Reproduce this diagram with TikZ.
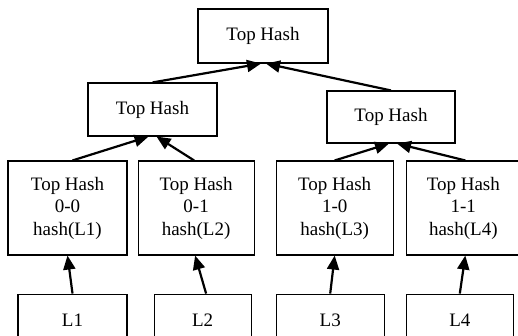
\documentclass[tikz,border=0pt]{standalone}
\usepackage{fontspec}
\setmainfont{Liberation Serif}
\usetikzlibrary{positioning,arrows.meta}

\tikzset{
  hashbox/.style={draw, line width=1.1pt, minimum height=53pt, inner sep=0pt,
    align=center, font=\fontsize{19}{22.5}\selectfont},
  link/.style={line width=2.2pt, -{Triangle[length=14pt,width=12pt]}},
}

\begin{document}
\begin{tikzpicture}[x=1pt,y=1pt]
      \clip (0,0) rectangle (518,-335);

        \node[hashbox, minimum width=130pt, minimum height=54pt] (top) at (263,-36) {Top Hash};
        \node[hashbox, minimum width=129pt] (m0) at (152.5,-109.5) {Top Hash};
        \node[hashbox, minimum width=128pt, minimum height=52pt] (m1) at (391,-117) {Top Hash};

        \node[hashbox, minimum width=119pt, minimum height=94pt] (h00) at (67.5,-208) {Top Hash\\0-0\\hash(L1)};
        \node[hashbox, minimum width=116pt, minimum height=94pt, right=10pt of h00] (h01) {Top Hash\\0-1\\hash(L2)};
        \node[hashbox, minimum width=117pt, minimum height=94pt, right=21pt of h01] (h10) {Top Hash\\1-0\\hash(L3)};
        \node[hashbox, minimum width=114pt, minimum height=94pt, right=12pt of h10] (h11) {Top Hash\\1-1\\hash(L4)};

        \node[hashbox, minimum width=109pt, below=38pt of h00, xshift=5pt] (l1) {L1};
        \node[hashbox, minimum width=97pt, below=38pt of h01, xshift=6.5pt] (l2) {L2};
        \node[hashbox, minimum width=108pt, below=38pt of h10, xshift=-4.5pt] (l3) {L3};
        \node[hashbox, minimum width=107pt, below=38pt of h11, xshift=-3.5pt] (l4) {L4};

        \draw[link] (m0.north) -- ([xshift=-2pt]top.south);
        \draw[link] (m1.north) -- ([xshift=3pt]top.south);

        \draw[link] ([xshift=5pt]h00.north) -- ([xshift=-4pt]m0.south);
        \draw[link] ([xshift=-2pt]h01.north) -- ([xshift=4pt]m0.south);
        \draw[link] (h10.north) -- ([xshift=-2pt]m1.south);
        \draw[link] ([xshift=2pt]h11.north) -- ([xshift=6pt]m1.south);

        \draw[link] (l1.north) -- (h00.south);
        \draw[link] ([xshift=3.5pt]l2.north) -- ([xshift=-1pt]h01.south);
        \draw[link] (l3.north) -- (h10.south);
        \draw[link] (l4.north) -- ([xshift=2pt]h11.south);
\end{tikzpicture}
\end{document}
